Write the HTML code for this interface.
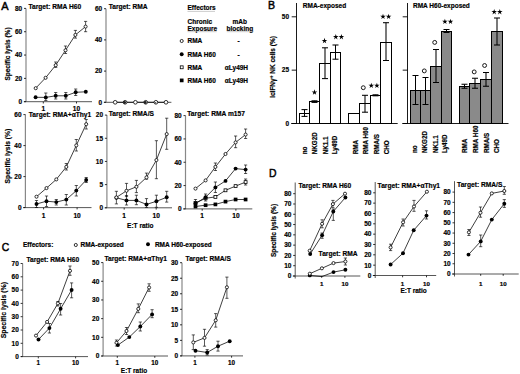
<!DOCTYPE html>
<html><head><meta charset="utf-8"><style>
html,body{margin:0;padding:0;background:#fff;}
body{width:520px;height:374px;overflow:hidden;}
svg{display:block;font-family:"Liberation Sans", sans-serif;}
text{stroke:#000;stroke-width:0.18px;}
</style></head><body>
<svg width="520" height="374" viewBox="0 0 520 374" fill="#000">
<text transform="translate(1.3,9.8) scale(0.93,1)" font-size="11.8" font-weight="normal" style="stroke-width:0.5px">A</text>
<line x1="26.00" y1="8.40" x2="26.00" y2="101.70" stroke="#888" stroke-width="1.2"/>
<line x1="23.80" y1="101.70" x2="92.00" y2="101.70" stroke="#444" stroke-width="0.9"/>
<line x1="24.00" y1="101.70" x2="26.00" y2="101.70" stroke="#000" stroke-width="0.8"/>
<text x="22.20" y="104.04" font-size="6.5" text-anchor="end" font-weight="bold" >0</text>
<line x1="24.00" y1="78.38" x2="26.00" y2="78.38" stroke="#000" stroke-width="0.8"/>
<text x="22.20" y="80.72" font-size="6.5" text-anchor="end" font-weight="bold" >20</text>
<line x1="24.00" y1="55.05" x2="26.00" y2="55.05" stroke="#000" stroke-width="0.8"/>
<text x="22.20" y="57.39" font-size="6.5" text-anchor="end" font-weight="bold" >40</text>
<line x1="24.00" y1="31.73" x2="26.00" y2="31.73" stroke="#000" stroke-width="0.8"/>
<text x="22.20" y="34.07" font-size="6.5" text-anchor="end" font-weight="bold" >60</text>
<line x1="24.00" y1="8.40" x2="26.00" y2="8.40" stroke="#000" stroke-width="0.8"/>
<text x="22.20" y="10.74" font-size="6.5" text-anchor="end" font-weight="bold" >80</text>
<line x1="43.30" y1="101.70" x2="43.30" y2="103.50" stroke="#000" stroke-width="0.8"/>
<text x="43.30" y="110.70" font-size="6.6" text-anchor="middle" font-weight="bold" >1</text>
<line x1="76.50" y1="101.70" x2="76.50" y2="103.50" stroke="#000" stroke-width="0.8"/>
<text x="76.50" y="110.70" font-size="6.6" text-anchor="middle" font-weight="bold" >10</text>
<text x="28.40" y="9.00" font-size="6.65" text-anchor="start" font-weight="bold" >Target: RMA H60</text>
<line x1="45.80" y1="93.00" x2="45.80" y2="100.50" stroke="#000" stroke-width="0.65"/>
<line x1="44.20" y1="93.00" x2="47.40" y2="93.00" stroke="#000" stroke-width="0.65"/>
<line x1="44.20" y1="100.50" x2="47.40" y2="100.50" stroke="#000" stroke-width="0.65"/>
<line x1="55.70" y1="92.50" x2="55.70" y2="99.00" stroke="#000" stroke-width="0.65"/>
<line x1="54.10" y1="92.50" x2="57.30" y2="92.50" stroke="#000" stroke-width="0.65"/>
<line x1="54.10" y1="99.00" x2="57.30" y2="99.00" stroke="#000" stroke-width="0.65"/>
<line x1="65.80" y1="92.50" x2="65.80" y2="99.00" stroke="#000" stroke-width="0.65"/>
<line x1="64.20" y1="92.50" x2="67.40" y2="92.50" stroke="#000" stroke-width="0.65"/>
<line x1="64.20" y1="99.00" x2="67.40" y2="99.00" stroke="#000" stroke-width="0.65"/>
<line x1="75.70" y1="89.00" x2="75.70" y2="95.50" stroke="#000" stroke-width="0.65"/>
<line x1="74.10" y1="89.00" x2="77.30" y2="89.00" stroke="#000" stroke-width="0.65"/>
<line x1="74.10" y1="95.50" x2="77.30" y2="95.50" stroke="#000" stroke-width="0.65"/>
<polyline points="35.60,97.30 45.80,97.40 55.70,95.80 65.80,95.80 75.70,92.30 85.80,91.80" fill="none" stroke="#000" stroke-width="0.75"/>
<circle cx="35.60" cy="97.30" r="1.95" fill="#000"/>
<circle cx="45.80" cy="97.40" r="1.95" fill="#000"/>
<circle cx="55.70" cy="95.80" r="1.95" fill="#000"/>
<circle cx="65.80" cy="95.80" r="1.95" fill="#000"/>
<circle cx="75.70" cy="92.30" r="1.95" fill="#000"/>
<circle cx="85.80" cy="91.80" r="1.95" fill="#000"/>
<line x1="55.70" y1="62.00" x2="55.70" y2="67.40" stroke="#000" stroke-width="0.65"/>
<line x1="54.10" y1="62.00" x2="57.30" y2="62.00" stroke="#000" stroke-width="0.65"/>
<line x1="54.10" y1="67.40" x2="57.30" y2="67.40" stroke="#000" stroke-width="0.65"/>
<line x1="65.50" y1="46.00" x2="65.50" y2="53.50" stroke="#000" stroke-width="0.65"/>
<line x1="63.90" y1="46.00" x2="67.10" y2="46.00" stroke="#000" stroke-width="0.65"/>
<line x1="63.90" y1="53.50" x2="67.10" y2="53.50" stroke="#000" stroke-width="0.65"/>
<line x1="75.40" y1="30.40" x2="75.40" y2="38.10" stroke="#000" stroke-width="0.65"/>
<line x1="73.80" y1="30.40" x2="77.00" y2="30.40" stroke="#000" stroke-width="0.65"/>
<line x1="73.80" y1="38.10" x2="77.00" y2="38.10" stroke="#000" stroke-width="0.65"/>
<line x1="85.60" y1="21.40" x2="85.60" y2="31.70" stroke="#000" stroke-width="0.65"/>
<line x1="84.00" y1="21.40" x2="87.20" y2="21.40" stroke="#000" stroke-width="0.65"/>
<line x1="84.00" y1="31.70" x2="87.20" y2="31.70" stroke="#000" stroke-width="0.65"/>
<polyline points="35.70,88.20 45.60,77.80 55.70,65.20 65.50,50.30 75.40,34.90 85.60,26.60" fill="none" stroke="#000" stroke-width="0.75"/>
<circle cx="35.70" cy="88.20" r="1.55" fill="#fff" stroke="#000" stroke-width="0.8"/>
<circle cx="45.60" cy="77.80" r="1.55" fill="#fff" stroke="#000" stroke-width="0.8"/>
<circle cx="55.70" cy="65.20" r="1.55" fill="#fff" stroke="#000" stroke-width="0.8"/>
<circle cx="65.50" cy="50.30" r="1.55" fill="#fff" stroke="#000" stroke-width="0.8"/>
<circle cx="75.40" cy="34.90" r="1.55" fill="#fff" stroke="#000" stroke-width="0.8"/>
<circle cx="85.60" cy="26.60" r="1.55" fill="#fff" stroke="#000" stroke-width="0.8"/>
<text transform="translate(9.80,54.00) rotate(-90)" font-size="6.5" text-anchor="middle" font-weight="bold">Specific lysis (%)</text>
<line x1="106.00" y1="8.70" x2="106.00" y2="102.30" stroke="#888" stroke-width="1.2"/>
<line x1="103.80" y1="102.30" x2="171.40" y2="102.30" stroke="#444" stroke-width="0.9"/>
<line x1="104.00" y1="102.30" x2="106.00" y2="102.30" stroke="#000" stroke-width="0.8"/>
<text x="102.20" y="104.64" font-size="6.5" text-anchor="end" font-weight="bold" >0</text>
<line x1="104.00" y1="71.10" x2="106.00" y2="71.10" stroke="#000" stroke-width="0.8"/>
<text x="102.20" y="73.44" font-size="6.5" text-anchor="end" font-weight="bold" >20</text>
<line x1="104.00" y1="39.90" x2="106.00" y2="39.90" stroke="#000" stroke-width="0.8"/>
<text x="102.20" y="42.24" font-size="6.5" text-anchor="end" font-weight="bold" >40</text>
<line x1="104.00" y1="8.70" x2="106.00" y2="8.70" stroke="#000" stroke-width="0.8"/>
<text x="102.20" y="11.04" font-size="6.5" text-anchor="end" font-weight="bold" >60</text>
<text x="108.70" y="8.70" font-size="6.65" text-anchor="start" font-weight="bold" >Target: RMA</text>
<polyline points="115.20,102.30 125.10,102.30 135.40,102.30 145.70,102.30 155.90,102.30 166.00,102.30" fill="none" stroke="#000" stroke-width="0.75"/>
<circle cx="115.20" cy="102.30" r="1.85" fill="#fff" stroke="#000" stroke-width="0.8"/>
<circle cx="125.10" cy="102.30" r="1.85" fill="#fff" stroke="#000" stroke-width="0.8"/>
<circle cx="124.60" cy="102.50" r="1.45" fill="#222"/>
<circle cx="135.40" cy="102.30" r="1.85" fill="#fff" stroke="#000" stroke-width="0.8"/>
<circle cx="145.70" cy="102.30" r="1.85" fill="#fff" stroke="#000" stroke-width="0.8"/>
<circle cx="145.20" cy="102.50" r="1.45" fill="#222"/>
<circle cx="155.90" cy="102.30" r="1.85" fill="#fff" stroke="#000" stroke-width="0.8"/>
<circle cx="155.50" cy="102.80" r="0.9" fill="#555"/>
<circle cx="166.00" cy="102.30" r="1.85" fill="#fff" stroke="#000" stroke-width="0.8"/>
<text x="187.50" y="10.10" font-size="6.5" text-anchor="start" font-weight="bold" >Effectors</text>
<line x1="187.50" y1="11.40" x2="215.00" y2="11.40" stroke="#aaa" stroke-width="0.6"/>
<text x="187.50" y="23.80" font-size="6.5" text-anchor="start" font-weight="bold" >Chronic</text>
<text x="187.50" y="30.60" font-size="6.5" text-anchor="start" font-weight="bold" >Exposure</text>
<line x1="187.50" y1="31.70" x2="216.70" y2="31.70" stroke="#aaa" stroke-width="0.6"/>
<text x="239.80" y="23.80" font-size="6.5" text-anchor="middle" font-weight="bold" >mAb</text>
<text x="239.80" y="30.60" font-size="6.5" text-anchor="middle" font-weight="bold" >blocking</text>
<line x1="226.70" y1="31.70" x2="253.30" y2="31.70" stroke="#aaa" stroke-width="0.6"/>
<circle cx="181.70" cy="41.00" r="1.55" fill="#fff" stroke="#000" stroke-width="0.8"/>
<text x="187.50" y="43.35" font-size="6.5" text-anchor="start" font-weight="bold" >RMA</text>
<text x="238.60" y="43.35" font-size="6.5" text-anchor="middle" font-weight="bold" >-</text>
<circle cx="181.70" cy="54.30" r="1.95" fill="#000"/>
<text x="187.50" y="56.65" font-size="6.5" text-anchor="start" font-weight="bold" >RMA H60</text>
<text x="238.60" y="56.65" font-size="6.5" text-anchor="middle" font-weight="bold" >-</text>
<rect x="180.25" y="65.85" width="2.90" height="2.90" fill="#fff" stroke="#000" stroke-width="0.8"/>
<text x="187.50" y="69.65" font-size="6.5" text-anchor="start" font-weight="bold" >RMA</text>
<text x="224.80" y="69.65" font-size="6.5" text-anchor="start" font-weight="bold" >&#945;Ly49H</text>
<rect x="179.85" y="78.55" width="3.70" height="3.70" fill="#000"/>
<text x="187.50" y="82.75" font-size="6.5" text-anchor="start" font-weight="bold" >RMA H60</text>
<text x="224.80" y="82.75" font-size="6.5" text-anchor="start" font-weight="bold" >&#945;Ly49H</text>
<line x1="25.40" y1="114.60" x2="25.40" y2="207.60" stroke="#888" stroke-width="1.2"/>
<line x1="23.20" y1="207.60" x2="91.50" y2="207.60" stroke="#444" stroke-width="0.9"/>
<line x1="23.40" y1="207.60" x2="25.40" y2="207.60" stroke="#000" stroke-width="0.8"/>
<text x="21.60" y="209.94" font-size="6.5" text-anchor="end" font-weight="bold" >0</text>
<line x1="23.40" y1="176.60" x2="25.40" y2="176.60" stroke="#000" stroke-width="0.8"/>
<text x="21.60" y="178.94" font-size="6.5" text-anchor="end" font-weight="bold" >20</text>
<line x1="23.40" y1="145.60" x2="25.40" y2="145.60" stroke="#000" stroke-width="0.8"/>
<text x="21.60" y="147.94" font-size="6.5" text-anchor="end" font-weight="bold" >40</text>
<line x1="23.40" y1="114.60" x2="25.40" y2="114.60" stroke="#000" stroke-width="0.8"/>
<text x="21.60" y="116.94" font-size="6.5" text-anchor="end" font-weight="bold" >60</text>
<line x1="43.60" y1="207.60" x2="43.60" y2="209.40" stroke="#000" stroke-width="0.8"/>
<text x="43.60" y="217.80" font-size="6.6" text-anchor="middle" font-weight="bold" >1</text>
<line x1="77.10" y1="207.60" x2="77.10" y2="209.40" stroke="#000" stroke-width="0.8"/>
<text x="77.10" y="217.80" font-size="6.6" text-anchor="middle" font-weight="bold" >10</text>
<text x="28.80" y="117.00" font-size="6.65" text-anchor="start" font-weight="bold" >Target: RMA+&#945;Thy1</text>
<line x1="36.50" y1="200.50" x2="36.50" y2="207.50" stroke="#000" stroke-width="0.65"/>
<line x1="34.90" y1="200.50" x2="38.10" y2="200.50" stroke="#000" stroke-width="0.65"/>
<line x1="34.90" y1="207.50" x2="38.10" y2="207.50" stroke="#000" stroke-width="0.65"/>
<line x1="46.50" y1="196.00" x2="46.50" y2="206.50" stroke="#000" stroke-width="0.65"/>
<line x1="44.90" y1="196.00" x2="48.10" y2="196.00" stroke="#000" stroke-width="0.65"/>
<line x1="44.90" y1="206.50" x2="48.10" y2="206.50" stroke="#000" stroke-width="0.65"/>
<line x1="56.30" y1="199.50" x2="56.30" y2="205.00" stroke="#000" stroke-width="0.65"/>
<line x1="54.70" y1="199.50" x2="57.90" y2="199.50" stroke="#000" stroke-width="0.65"/>
<line x1="54.70" y1="205.00" x2="57.90" y2="205.00" stroke="#000" stroke-width="0.65"/>
<line x1="66.30" y1="194.50" x2="66.30" y2="205.00" stroke="#000" stroke-width="0.65"/>
<line x1="64.70" y1="194.50" x2="67.90" y2="194.50" stroke="#000" stroke-width="0.65"/>
<line x1="64.70" y1="205.00" x2="67.90" y2="205.00" stroke="#000" stroke-width="0.65"/>
<line x1="76.30" y1="185.50" x2="76.30" y2="196.00" stroke="#000" stroke-width="0.65"/>
<line x1="74.70" y1="185.50" x2="77.90" y2="185.50" stroke="#000" stroke-width="0.65"/>
<line x1="74.70" y1="196.00" x2="77.90" y2="196.00" stroke="#000" stroke-width="0.65"/>
<line x1="86.20" y1="177.50" x2="86.20" y2="182.50" stroke="#000" stroke-width="0.65"/>
<line x1="84.60" y1="177.50" x2="87.80" y2="177.50" stroke="#000" stroke-width="0.65"/>
<line x1="84.60" y1="182.50" x2="87.80" y2="182.50" stroke="#000" stroke-width="0.65"/>
<polyline points="36.50,204.00 46.50,201.20 56.30,202.10 66.30,199.60 76.30,190.60 86.20,180.00" fill="none" stroke="#000" stroke-width="0.75"/>
<circle cx="36.50" cy="204.00" r="1.95" fill="#000"/>
<circle cx="46.50" cy="201.20" r="1.95" fill="#000"/>
<circle cx="56.30" cy="202.10" r="1.95" fill="#000"/>
<circle cx="66.30" cy="199.60" r="1.95" fill="#000"/>
<circle cx="76.30" cy="190.60" r="1.95" fill="#000"/>
<circle cx="86.20" cy="180.00" r="1.95" fill="#000"/>
<line x1="66.30" y1="163.50" x2="66.30" y2="170.00" stroke="#000" stroke-width="0.65"/>
<line x1="64.70" y1="163.50" x2="67.90" y2="163.50" stroke="#000" stroke-width="0.65"/>
<line x1="64.70" y1="170.00" x2="67.90" y2="170.00" stroke="#000" stroke-width="0.65"/>
<line x1="76.30" y1="139.50" x2="76.30" y2="151.00" stroke="#000" stroke-width="0.65"/>
<line x1="74.70" y1="139.50" x2="77.90" y2="139.50" stroke="#000" stroke-width="0.65"/>
<line x1="74.70" y1="151.00" x2="77.90" y2="151.00" stroke="#000" stroke-width="0.65"/>
<line x1="86.20" y1="119.50" x2="86.20" y2="129.00" stroke="#000" stroke-width="0.65"/>
<line x1="84.60" y1="119.50" x2="87.80" y2="119.50" stroke="#000" stroke-width="0.65"/>
<line x1="84.60" y1="129.00" x2="87.80" y2="129.00" stroke="#000" stroke-width="0.65"/>
<polyline points="36.50,196.70 46.50,188.10 56.30,179.40 66.30,166.90 76.30,145.40 86.20,124.20" fill="none" stroke="#000" stroke-width="0.75"/>
<circle cx="36.50" cy="196.70" r="1.55" fill="#fff" stroke="#000" stroke-width="0.8"/>
<circle cx="46.50" cy="188.10" r="1.55" fill="#fff" stroke="#000" stroke-width="0.8"/>
<circle cx="56.30" cy="179.40" r="1.55" fill="#fff" stroke="#000" stroke-width="0.8"/>
<circle cx="66.30" cy="166.90" r="1.55" fill="#fff" stroke="#000" stroke-width="0.8"/>
<circle cx="76.30" cy="145.40" r="1.55" fill="#fff" stroke="#000" stroke-width="0.8"/>
<circle cx="86.20" cy="124.20" r="1.55" fill="#fff" stroke="#000" stroke-width="0.8"/>
<text transform="translate(9.90,156.10) rotate(-90)" font-size="6.7" text-anchor="middle" font-weight="bold">Specific lysis (%)</text>
<line x1="106.90" y1="115.10" x2="106.90" y2="207.80" stroke="#888" stroke-width="1.2"/>
<line x1="104.70" y1="207.80" x2="172.00" y2="207.80" stroke="#444" stroke-width="0.9"/>
<line x1="104.90" y1="207.80" x2="106.90" y2="207.80" stroke="#000" stroke-width="0.8"/>
<text x="103.10" y="210.14" font-size="6.5" text-anchor="end" font-weight="bold" >0</text>
<line x1="104.90" y1="184.62" x2="106.90" y2="184.62" stroke="#000" stroke-width="0.8"/>
<text x="103.10" y="186.97" font-size="6.5" text-anchor="end" font-weight="bold" >5</text>
<line x1="104.90" y1="161.45" x2="106.90" y2="161.45" stroke="#000" stroke-width="0.8"/>
<text x="103.10" y="163.79" font-size="6.5" text-anchor="end" font-weight="bold" >10</text>
<line x1="104.90" y1="138.28" x2="106.90" y2="138.28" stroke="#000" stroke-width="0.8"/>
<text x="103.10" y="140.62" font-size="6.5" text-anchor="end" font-weight="bold" >15</text>
<line x1="104.90" y1="115.10" x2="106.90" y2="115.10" stroke="#000" stroke-width="0.8"/>
<text x="103.10" y="117.44" font-size="6.5" text-anchor="end" font-weight="bold" >20</text>
<line x1="124.20" y1="207.80" x2="124.20" y2="209.60" stroke="#000" stroke-width="0.8"/>
<text x="124.20" y="217.80" font-size="6.6" text-anchor="middle" font-weight="bold" >1</text>
<line x1="156.20" y1="207.80" x2="156.20" y2="209.60" stroke="#000" stroke-width="0.8"/>
<text x="156.20" y="217.80" font-size="6.6" text-anchor="middle" font-weight="bold" >10</text>
<text x="108.70" y="115.80" font-size="6.65" text-anchor="start" font-weight="bold" >Target: RMA/S</text>
<line x1="126.50" y1="195.50" x2="126.50" y2="205.00" stroke="#000" stroke-width="0.65"/>
<line x1="124.90" y1="195.50" x2="128.10" y2="195.50" stroke="#000" stroke-width="0.65"/>
<line x1="124.90" y1="205.00" x2="128.10" y2="205.00" stroke="#000" stroke-width="0.65"/>
<line x1="136.40" y1="195.20" x2="136.40" y2="204.70" stroke="#000" stroke-width="0.65"/>
<line x1="134.80" y1="195.20" x2="138.00" y2="195.20" stroke="#000" stroke-width="0.65"/>
<line x1="134.80" y1="204.70" x2="138.00" y2="204.70" stroke="#000" stroke-width="0.65"/>
<line x1="146.50" y1="198.60" x2="146.50" y2="207.40" stroke="#000" stroke-width="0.65"/>
<line x1="144.90" y1="198.60" x2="148.10" y2="198.60" stroke="#000" stroke-width="0.65"/>
<line x1="144.90" y1="207.40" x2="148.10" y2="207.40" stroke="#000" stroke-width="0.65"/>
<line x1="156.40" y1="195.20" x2="156.40" y2="207.30" stroke="#000" stroke-width="0.65"/>
<line x1="154.80" y1="195.20" x2="158.00" y2="195.20" stroke="#000" stroke-width="0.65"/>
<line x1="154.80" y1="207.30" x2="158.00" y2="207.30" stroke="#000" stroke-width="0.65"/>
<line x1="166.70" y1="191.30" x2="166.70" y2="202.10" stroke="#000" stroke-width="0.65"/>
<line x1="165.10" y1="191.30" x2="168.30" y2="191.30" stroke="#000" stroke-width="0.65"/>
<line x1="165.10" y1="202.10" x2="168.30" y2="202.10" stroke="#000" stroke-width="0.65"/>
<polyline points="116.40,197.80 126.50,200.40 136.40,200.40 146.50,204.40 156.40,201.30 166.70,197.30" fill="none" stroke="#000" stroke-width="0.75"/>
<circle cx="116.40" cy="197.80" r="1.95" fill="#000"/>
<circle cx="126.50" cy="200.40" r="1.95" fill="#000"/>
<circle cx="136.40" cy="200.40" r="1.95" fill="#000"/>
<circle cx="146.50" cy="204.40" r="1.95" fill="#000"/>
<circle cx="156.40" cy="201.30" r="1.95" fill="#000"/>
<circle cx="166.70" cy="197.30" r="1.95" fill="#000"/>
<line x1="116.40" y1="191.30" x2="116.40" y2="203.90" stroke="#000" stroke-width="0.65"/>
<line x1="114.80" y1="191.30" x2="118.00" y2="191.30" stroke="#000" stroke-width="0.65"/>
<line x1="114.80" y1="203.90" x2="118.00" y2="203.90" stroke="#000" stroke-width="0.65"/>
<line x1="126.50" y1="183.40" x2="126.50" y2="196.60" stroke="#000" stroke-width="0.65"/>
<line x1="124.90" y1="183.40" x2="128.10" y2="183.40" stroke="#000" stroke-width="0.65"/>
<line x1="124.90" y1="196.60" x2="128.10" y2="196.60" stroke="#000" stroke-width="0.65"/>
<line x1="136.40" y1="180.40" x2="136.40" y2="192.60" stroke="#000" stroke-width="0.65"/>
<line x1="134.80" y1="180.40" x2="138.00" y2="180.40" stroke="#000" stroke-width="0.65"/>
<line x1="134.80" y1="192.60" x2="138.00" y2="192.60" stroke="#000" stroke-width="0.65"/>
<line x1="146.50" y1="173.10" x2="146.50" y2="179.20" stroke="#000" stroke-width="0.65"/>
<line x1="144.90" y1="173.10" x2="148.10" y2="173.10" stroke="#000" stroke-width="0.65"/>
<line x1="144.90" y1="179.20" x2="148.10" y2="179.20" stroke="#000" stroke-width="0.65"/>
<line x1="156.40" y1="140.70" x2="156.40" y2="178.70" stroke="#000" stroke-width="0.65"/>
<line x1="154.80" y1="140.70" x2="158.00" y2="140.70" stroke="#000" stroke-width="0.65"/>
<line x1="154.80" y1="178.70" x2="158.00" y2="178.70" stroke="#000" stroke-width="0.65"/>
<line x1="166.70" y1="118.20" x2="166.70" y2="149.30" stroke="#000" stroke-width="0.65"/>
<line x1="165.10" y1="118.20" x2="168.30" y2="118.20" stroke="#000" stroke-width="0.65"/>
<line x1="165.10" y1="149.30" x2="168.30" y2="149.30" stroke="#000" stroke-width="0.65"/>
<polyline points="116.40,197.40 126.50,190.80 136.40,186.80 146.50,177.40 156.40,160.10 166.70,134.10" fill="none" stroke="#000" stroke-width="0.75"/>
<circle cx="116.40" cy="197.40" r="1.55" fill="#fff" stroke="#000" stroke-width="0.8"/>
<circle cx="126.50" cy="190.80" r="1.55" fill="#fff" stroke="#000" stroke-width="0.8"/>
<circle cx="136.40" cy="186.80" r="1.55" fill="#fff" stroke="#000" stroke-width="0.8"/>
<circle cx="146.50" cy="177.40" r="1.55" fill="#fff" stroke="#000" stroke-width="0.8"/>
<circle cx="156.40" cy="160.10" r="1.55" fill="#fff" stroke="#000" stroke-width="0.8"/>
<circle cx="166.70" cy="134.10" r="1.55" fill="#fff" stroke="#000" stroke-width="0.8"/>
<line x1="185.50" y1="115.60" x2="185.50" y2="208.90" stroke="#888" stroke-width="1.2"/>
<line x1="183.30" y1="208.90" x2="252.30" y2="208.90" stroke="#444" stroke-width="0.9"/>
<line x1="183.50" y1="208.90" x2="185.50" y2="208.90" stroke="#000" stroke-width="0.8"/>
<text x="181.70" y="211.24" font-size="6.5" text-anchor="end" font-weight="bold" >0</text>
<line x1="183.50" y1="185.57" x2="185.50" y2="185.57" stroke="#000" stroke-width="0.8"/>
<text x="181.70" y="187.91" font-size="6.5" text-anchor="end" font-weight="bold" >20</text>
<line x1="183.50" y1="162.25" x2="185.50" y2="162.25" stroke="#000" stroke-width="0.8"/>
<text x="181.70" y="164.59" font-size="6.5" text-anchor="end" font-weight="bold" >40</text>
<line x1="183.50" y1="138.93" x2="185.50" y2="138.93" stroke="#000" stroke-width="0.8"/>
<text x="181.70" y="141.27" font-size="6.5" text-anchor="end" font-weight="bold" >60</text>
<line x1="183.50" y1="115.60" x2="185.50" y2="115.60" stroke="#000" stroke-width="0.8"/>
<text x="181.70" y="117.94" font-size="6.5" text-anchor="end" font-weight="bold" >80</text>
<line x1="202.20" y1="208.90" x2="202.20" y2="210.70" stroke="#000" stroke-width="0.8"/>
<text x="202.20" y="217.80" font-size="6.6" text-anchor="middle" font-weight="bold" >1</text>
<line x1="235.90" y1="208.90" x2="235.90" y2="210.70" stroke="#000" stroke-width="0.8"/>
<text x="235.90" y="217.80" font-size="6.6" text-anchor="middle" font-weight="bold" >10</text>
<text x="187.30" y="116.20" font-size="6.65" text-anchor="start" font-weight="bold" >Target: RMA m157</text>
<polyline points="195.50,206.50 205.60,205.20 215.40,204.40 225.50,201.60 235.60,199.50 245.60,199.50" fill="none" stroke="#000" stroke-width="0.75"/>
<rect x="193.65" y="204.65" width="3.70" height="3.70" fill="#000"/>
<rect x="203.75" y="203.35" width="3.70" height="3.70" fill="#000"/>
<rect x="213.55" y="202.55" width="3.70" height="3.70" fill="#000"/>
<rect x="223.65" y="199.75" width="3.70" height="3.70" fill="#000"/>
<rect x="233.75" y="197.65" width="3.70" height="3.70" fill="#000"/>
<rect x="243.75" y="197.65" width="3.70" height="3.70" fill="#000"/>
<line x1="195.50" y1="199.50" x2="195.50" y2="206.50" stroke="#000" stroke-width="0.65"/>
<line x1="193.90" y1="199.50" x2="197.10" y2="199.50" stroke="#000" stroke-width="0.65"/>
<line x1="193.90" y1="206.50" x2="197.10" y2="206.50" stroke="#000" stroke-width="0.65"/>
<line x1="245.60" y1="179.00" x2="245.60" y2="185.00" stroke="#000" stroke-width="0.65"/>
<line x1="244.00" y1="179.00" x2="247.20" y2="179.00" stroke="#000" stroke-width="0.65"/>
<line x1="244.00" y1="185.00" x2="247.20" y2="185.00" stroke="#000" stroke-width="0.65"/>
<polyline points="195.50,203.00 205.60,198.30 215.40,196.90 225.50,190.30 235.60,186.10 245.60,182.10" fill="none" stroke="#000" stroke-width="0.75"/>
<rect x="194.05" y="201.55" width="2.90" height="2.90" fill="#fff" stroke="#000" stroke-width="0.8"/>
<rect x="204.15" y="196.85" width="2.90" height="2.90" fill="#fff" stroke="#000" stroke-width="0.8"/>
<rect x="213.95" y="195.45" width="2.90" height="2.90" fill="#fff" stroke="#000" stroke-width="0.8"/>
<rect x="224.05" y="188.85" width="2.90" height="2.90" fill="#fff" stroke="#000" stroke-width="0.8"/>
<rect x="234.15" y="184.65" width="2.90" height="2.90" fill="#fff" stroke="#000" stroke-width="0.8"/>
<rect x="244.15" y="180.65" width="2.90" height="2.90" fill="#fff" stroke="#000" stroke-width="0.8"/>
<line x1="205.60" y1="194.00" x2="205.60" y2="201.00" stroke="#000" stroke-width="0.65"/>
<line x1="204.00" y1="194.00" x2="207.20" y2="194.00" stroke="#000" stroke-width="0.65"/>
<line x1="204.00" y1="201.00" x2="207.20" y2="201.00" stroke="#000" stroke-width="0.65"/>
<line x1="215.40" y1="182.00" x2="215.40" y2="192.50" stroke="#000" stroke-width="0.65"/>
<line x1="213.80" y1="182.00" x2="217.00" y2="182.00" stroke="#000" stroke-width="0.65"/>
<line x1="213.80" y1="192.50" x2="217.00" y2="192.50" stroke="#000" stroke-width="0.65"/>
<line x1="245.60" y1="165.00" x2="245.60" y2="173.50" stroke="#000" stroke-width="0.65"/>
<line x1="244.00" y1="165.00" x2="247.20" y2="165.00" stroke="#000" stroke-width="0.65"/>
<line x1="244.00" y1="173.50" x2="247.20" y2="173.50" stroke="#000" stroke-width="0.65"/>
<polyline points="195.50,203.50 205.60,197.30 215.40,187.40 225.50,180.90 235.60,168.60 245.60,169.60" fill="none" stroke="#000" stroke-width="0.75"/>
<circle cx="195.50" cy="203.50" r="1.95" fill="#000"/>
<circle cx="205.60" cy="197.30" r="1.95" fill="#000"/>
<circle cx="215.40" cy="187.40" r="1.95" fill="#000"/>
<circle cx="225.50" cy="180.90" r="1.95" fill="#000"/>
<circle cx="235.60" cy="168.60" r="1.95" fill="#000"/>
<circle cx="245.60" cy="169.60" r="1.95" fill="#000"/>
<line x1="215.40" y1="163.00" x2="215.40" y2="170.50" stroke="#000" stroke-width="0.65"/>
<line x1="213.80" y1="163.00" x2="217.00" y2="163.00" stroke="#000" stroke-width="0.65"/>
<line x1="213.80" y1="170.50" x2="217.00" y2="170.50" stroke="#000" stroke-width="0.65"/>
<line x1="235.60" y1="136.00" x2="235.60" y2="147.70" stroke="#000" stroke-width="0.65"/>
<line x1="234.00" y1="136.00" x2="237.20" y2="136.00" stroke="#000" stroke-width="0.65"/>
<line x1="234.00" y1="147.70" x2="237.20" y2="147.70" stroke="#000" stroke-width="0.65"/>
<line x1="245.60" y1="129.00" x2="245.60" y2="138.50" stroke="#000" stroke-width="0.65"/>
<line x1="244.00" y1="129.00" x2="247.20" y2="129.00" stroke="#000" stroke-width="0.65"/>
<line x1="244.00" y1="138.50" x2="247.20" y2="138.50" stroke="#000" stroke-width="0.65"/>
<polyline points="195.50,188.60 205.60,180.40 215.40,166.90 225.50,154.00 235.60,142.40 245.60,134.60" fill="none" stroke="#000" stroke-width="0.75"/>
<circle cx="195.50" cy="188.60" r="1.55" fill="#fff" stroke="#000" stroke-width="0.8"/>
<circle cx="205.60" cy="180.40" r="1.55" fill="#fff" stroke="#000" stroke-width="0.8"/>
<circle cx="215.40" cy="166.90" r="1.55" fill="#fff" stroke="#000" stroke-width="0.8"/>
<circle cx="225.50" cy="154.00" r="1.55" fill="#fff" stroke="#000" stroke-width="0.8"/>
<circle cx="235.60" cy="142.40" r="1.55" fill="#fff" stroke="#000" stroke-width="0.8"/>
<circle cx="245.60" cy="134.60" r="1.55" fill="#fff" stroke="#000" stroke-width="0.8"/>
<text x="140.30" y="228.30" font-size="6.5" text-anchor="middle" font-weight="bold" >E:T ratio</text>
<text transform="translate(268.0,8.8) scale(0.9,1)" font-size="11.8" font-weight="normal" style="stroke-width:0.5px">B</text>
<text transform="translate(275.00,67.00) rotate(-90)" font-size="6.5" text-anchor="middle" font-weight="bold">icIFN&#947;<tspan dy="-1.7" font-size="4.8">+</tspan><tspan dy="1.7"> NK cells (%)</tspan></text>
<line x1="296.50" y1="3.00" x2="296.50" y2="123.50" stroke="#000" stroke-width="0.9"/>
<line x1="291.20" y1="123.50" x2="397.70" y2="123.50" stroke="#000" stroke-width="0.9"/>
<line x1="291.70" y1="123.50" x2="296.50" y2="123.50" stroke="#000" stroke-width="0.9"/>
<text x="289.00" y="125.84" font-size="6.5" text-anchor="end" font-weight="bold" >0</text>
<line x1="291.70" y1="70.15" x2="296.50" y2="70.15" stroke="#000" stroke-width="0.9"/>
<text x="289.00" y="72.49" font-size="6.5" text-anchor="end" font-weight="bold" >25</text>
<line x1="291.70" y1="16.80" x2="296.50" y2="16.80" stroke="#000" stroke-width="0.9"/>
<text x="289.00" y="19.14" font-size="6.5" text-anchor="end" font-weight="bold" >50</text>
<text x="302.80" y="7.80" font-size="6.5" text-anchor="start" font-weight="bold" >RMA-exposed</text>
<rect x="299.50" y="113.50" width="10.00" height="10.00" fill="#fff" stroke="#000" stroke-width="1.0"/>
<rect x="309.50" y="101.50" width="10.00" height="22.00" fill="#fff" stroke="#000" stroke-width="1.0"/>
<rect x="319.50" y="63.50" width="11.00" height="60.00" fill="#fff" stroke="#000" stroke-width="1.0"/>
<rect x="330.50" y="52.50" width="10.00" height="71.00" fill="#fff" stroke="#000" stroke-width="1.0"/>
<rect x="348.50" y="113.50" width="11.00" height="10.00" fill="#fff" stroke="#000" stroke-width="1.0"/>
<rect x="359.50" y="103.50" width="11.00" height="20.00" fill="#fff" stroke="#000" stroke-width="1.0"/>
<rect x="370.50" y="95.50" width="10.00" height="28.00" fill="#fff" stroke="#000" stroke-width="1.0"/>
<rect x="380.50" y="42.50" width="11.00" height="81.00" fill="#fff" stroke="#000" stroke-width="1.0"/>
<line x1="304.50" y1="109.60" x2="304.50" y2="116.40" stroke="#000" stroke-width="1.05"/>
<line x1="301.50" y1="109.60" x2="307.50" y2="109.60" stroke="#000" stroke-width="1.05"/>
<line x1="301.50" y1="116.40" x2="307.50" y2="116.40" stroke="#000" stroke-width="1.05"/>
<line x1="314.50" y1="100.80" x2="314.50" y2="102.40" stroke="#000" stroke-width="1.05"/>
<line x1="311.50" y1="100.80" x2="317.50" y2="100.80" stroke="#000" stroke-width="1.05"/>
<line x1="311.50" y1="102.40" x2="317.50" y2="102.40" stroke="#000" stroke-width="1.05"/>
<polygon points="314.50,89.35 315.15,91.41 317.31,91.39 315.55,92.64 316.23,94.69 314.50,93.40 312.77,94.69 313.45,92.64 311.69,91.39 313.85,91.41" fill="#000"/>
<line x1="325.00" y1="47.80" x2="325.00" y2="78.60" stroke="#000" stroke-width="1.05"/>
<line x1="322.00" y1="47.80" x2="328.00" y2="47.80" stroke="#000" stroke-width="1.05"/>
<line x1="322.00" y1="78.60" x2="328.00" y2="78.60" stroke="#000" stroke-width="1.05"/>
<polygon points="324.50,37.85 325.15,39.91 327.31,39.89 325.55,41.14 326.23,43.19 324.50,41.90 322.77,43.19 323.45,41.14 321.69,39.89 323.85,39.91" fill="#000"/>
<line x1="335.50" y1="45.00" x2="335.50" y2="59.20" stroke="#000" stroke-width="1.05"/>
<line x1="332.50" y1="45.00" x2="338.50" y2="45.00" stroke="#000" stroke-width="1.05"/>
<line x1="332.50" y1="59.20" x2="338.50" y2="59.20" stroke="#000" stroke-width="1.05"/>
<polygon points="335.80,34.05 336.45,36.11 338.61,36.09 336.85,37.34 337.53,39.39 335.80,38.10 334.07,39.39 334.75,37.34 332.99,36.09 335.15,36.11" fill="#000"/>
<polygon points="341.40,34.05 342.05,36.11 344.21,36.09 342.45,37.34 343.13,39.39 341.40,38.10 339.67,39.39 340.35,37.34 338.59,36.09 340.75,36.11" fill="#000"/>
<line x1="365.00" y1="95.30" x2="365.00" y2="112.20" stroke="#000" stroke-width="1.05"/>
<line x1="362.00" y1="95.30" x2="368.00" y2="95.30" stroke="#000" stroke-width="1.05"/>
<line x1="362.00" y1="112.20" x2="368.00" y2="112.20" stroke="#000" stroke-width="1.05"/>
<circle cx="363.30" cy="87.70" r="1.95" fill="none" stroke="#000" stroke-width="0.9"/>
<line x1="375.50" y1="94.80" x2="375.50" y2="95.80" stroke="#000" stroke-width="1.05"/>
<line x1="372.50" y1="94.80" x2="378.50" y2="94.80" stroke="#000" stroke-width="1.05"/>
<line x1="372.50" y1="95.80" x2="378.50" y2="95.80" stroke="#000" stroke-width="1.05"/>
<polygon points="371.30,82.75 371.95,84.81 374.11,84.79 372.35,86.04 373.03,88.09 371.30,86.80 369.57,88.09 370.25,86.04 368.49,84.79 370.65,84.81" fill="#000"/>
<polygon points="376.90,82.75 377.55,84.81 379.71,84.79 377.95,86.04 378.63,88.09 376.90,86.80 375.17,88.09 375.85,86.04 374.09,84.79 376.25,84.81" fill="#000"/>
<line x1="386.00" y1="22.70" x2="386.00" y2="60.50" stroke="#000" stroke-width="1.05"/>
<line x1="383.00" y1="22.70" x2="389.00" y2="22.70" stroke="#000" stroke-width="1.05"/>
<line x1="383.00" y1="60.50" x2="389.00" y2="60.50" stroke="#000" stroke-width="1.05"/>
<polygon points="383.00,13.75 383.65,15.81 385.81,15.79 384.05,17.04 384.73,19.09 383.00,17.80 381.27,19.09 381.95,17.04 380.19,15.79 382.35,15.81" fill="#000"/>
<polygon points="388.60,13.75 389.25,15.81 391.41,15.79 389.65,17.04 390.33,19.09 388.60,17.80 386.87,19.09 387.55,17.04 385.79,15.79 387.95,15.81" fill="#000"/>
<text transform="translate(307.20,154.30) rotate(-90)" font-size="6.3" text-anchor="start" font-weight="bold">no</text>
<text transform="translate(317.20,154.30) rotate(-90)" font-size="6.3" text-anchor="start" font-weight="bold">NKG2D</text>
<text transform="translate(327.50,154.30) rotate(-90)" font-size="6.3" text-anchor="start" font-weight="bold">NK1.1</text>
<text transform="translate(337.20,154.30) rotate(-90)" font-size="6.3" text-anchor="start" font-weight="bold">Ly49D</text>
<text transform="translate(357.70,154.30) rotate(-90)" font-size="6.3" text-anchor="start" font-weight="bold">RMA</text>
<text transform="translate(367.90,154.30) rotate(-90)" font-size="6.3" text-anchor="start" font-weight="bold">RMA H60</text>
<text transform="translate(378.50,154.30) rotate(-90)" font-size="6.3" text-anchor="start" font-weight="bold">RMA/S</text>
<text transform="translate(388.70,154.30) rotate(-90)" font-size="6.3" text-anchor="start" font-weight="bold">CHO</text>
<line x1="407.50" y1="3.00" x2="407.50" y2="123.50" stroke="#000" stroke-width="0.9"/>
<line x1="402.30" y1="123.50" x2="508.50" y2="123.50" stroke="#000" stroke-width="0.9"/>
<line x1="402.70" y1="123.50" x2="407.50" y2="123.50" stroke="#000" stroke-width="0.9"/>
<line x1="402.70" y1="70.15" x2="407.50" y2="70.15" stroke="#000" stroke-width="0.9"/>
<line x1="402.70" y1="16.80" x2="407.50" y2="16.80" stroke="#000" stroke-width="0.9"/>
<text x="413.00" y="7.80" font-size="6.5" text-anchor="start" font-weight="bold" >RMA H60-exposed</text>
<rect x="410.50" y="90.50" width="10.00" height="33.00" fill="#8a8a8a" stroke="#000" stroke-width="1.0"/>
<rect x="420.50" y="90.50" width="10.00" height="33.00" fill="#8a8a8a" stroke="#000" stroke-width="1.0"/>
<rect x="430.50" y="66.50" width="11.00" height="57.00" fill="#8a8a8a" stroke="#000" stroke-width="1.0"/>
<rect x="441.50" y="31.50" width="10.00" height="92.00" fill="#8a8a8a" stroke="#000" stroke-width="1.0"/>
<rect x="459.50" y="86.50" width="10.00" height="37.00" fill="#8a8a8a" stroke="#000" stroke-width="1.0"/>
<rect x="469.50" y="83.50" width="11.00" height="40.00" fill="#8a8a8a" stroke="#000" stroke-width="1.0"/>
<rect x="480.50" y="79.50" width="11.00" height="44.00" fill="#8a8a8a" stroke="#000" stroke-width="1.0"/>
<rect x="491.50" y="31.50" width="11.00" height="92.00" fill="#8a8a8a" stroke="#000" stroke-width="1.0"/>
<line x1="415.50" y1="75.50" x2="415.50" y2="104.50" stroke="#000" stroke-width="1.05"/>
<line x1="412.50" y1="75.50" x2="418.50" y2="75.50" stroke="#000" stroke-width="1.05"/>
<line x1="412.50" y1="104.50" x2="418.50" y2="104.50" stroke="#000" stroke-width="1.05"/>
<line x1="425.50" y1="77.50" x2="425.50" y2="104.50" stroke="#000" stroke-width="1.05"/>
<line x1="422.50" y1="77.50" x2="428.50" y2="77.50" stroke="#000" stroke-width="1.05"/>
<line x1="422.50" y1="104.50" x2="428.50" y2="104.50" stroke="#000" stroke-width="1.05"/>
<circle cx="424.30" cy="70.90" r="1.95" fill="none" stroke="#000" stroke-width="0.9"/>
<line x1="436.00" y1="49.50" x2="436.00" y2="82.50" stroke="#000" stroke-width="1.05"/>
<line x1="433.00" y1="49.50" x2="439.00" y2="49.50" stroke="#000" stroke-width="1.05"/>
<line x1="433.00" y1="82.50" x2="439.00" y2="82.50" stroke="#000" stroke-width="1.05"/>
<circle cx="434.70" cy="42.40" r="1.95" fill="none" stroke="#000" stroke-width="0.9"/>
<line x1="446.50" y1="29.50" x2="446.50" y2="32.50" stroke="#000" stroke-width="1.05"/>
<line x1="443.50" y1="29.50" x2="449.50" y2="29.50" stroke="#000" stroke-width="1.05"/>
<line x1="443.50" y1="32.50" x2="449.50" y2="32.50" stroke="#000" stroke-width="1.05"/>
<polygon points="444.90,18.75 445.55,20.81 447.71,20.79 445.95,22.04 446.63,24.09 444.90,22.80 443.17,24.09 443.85,22.04 442.09,20.79 444.25,20.81" fill="#000"/>
<polygon points="450.50,18.75 451.15,20.81 453.31,20.79 451.55,22.04 452.23,24.09 450.50,22.80 448.77,24.09 449.45,22.04 447.69,20.79 449.85,20.81" fill="#000"/>
<line x1="464.50" y1="84.25" x2="464.50" y2="88.25" stroke="#000" stroke-width="1.05"/>
<line x1="461.50" y1="84.25" x2="467.50" y2="84.25" stroke="#000" stroke-width="1.05"/>
<line x1="461.50" y1="88.25" x2="467.50" y2="88.25" stroke="#000" stroke-width="1.05"/>
<line x1="475.00" y1="78.25" x2="475.00" y2="88.25" stroke="#000" stroke-width="1.05"/>
<line x1="472.00" y1="78.25" x2="478.00" y2="78.25" stroke="#000" stroke-width="1.05"/>
<line x1="472.00" y1="88.25" x2="478.00" y2="88.25" stroke="#000" stroke-width="1.05"/>
<circle cx="474.20" cy="71.90" r="1.95" fill="none" stroke="#000" stroke-width="0.9"/>
<line x1="486.00" y1="72.50" x2="486.00" y2="86.25" stroke="#000" stroke-width="1.05"/>
<line x1="483.00" y1="72.50" x2="489.00" y2="72.50" stroke="#000" stroke-width="1.05"/>
<line x1="483.00" y1="86.25" x2="489.00" y2="86.25" stroke="#000" stroke-width="1.05"/>
<circle cx="484.60" cy="65.50" r="1.95" fill="none" stroke="#000" stroke-width="0.9"/>
<line x1="497.00" y1="18.00" x2="497.00" y2="45.00" stroke="#000" stroke-width="1.05"/>
<line x1="494.00" y1="18.00" x2="500.00" y2="18.00" stroke="#000" stroke-width="1.05"/>
<line x1="494.00" y1="45.00" x2="500.00" y2="45.00" stroke="#000" stroke-width="1.05"/>
<polygon points="494.20,9.05 494.85,11.11 497.01,11.09 495.25,12.34 495.93,14.39 494.20,13.10 492.47,14.39 493.15,12.34 491.39,11.09 493.55,11.11" fill="#000"/>
<polygon points="499.80,9.05 500.45,11.11 502.61,11.09 500.85,12.34 501.53,14.39 499.80,13.10 498.07,14.39 498.75,12.34 496.99,11.09 499.15,11.11" fill="#000"/>
<text transform="translate(417.20,153.00) rotate(-90)" font-size="6.3" text-anchor="start" font-weight="bold">no</text>
<text transform="translate(426.80,153.00) rotate(-90)" font-size="6.3" text-anchor="start" font-weight="bold">NKG2D</text>
<text transform="translate(437.50,153.00) rotate(-90)" font-size="6.3" text-anchor="start" font-weight="bold">NK1.1</text>
<text transform="translate(447.20,153.00) rotate(-90)" font-size="6.3" text-anchor="start" font-weight="bold">Ly49D</text>
<text transform="translate(467.40,153.00) rotate(-90)" font-size="6.3" text-anchor="start" font-weight="bold">RMA</text>
<text transform="translate(477.90,153.00) rotate(-90)" font-size="6.3" text-anchor="start" font-weight="bold">RMA H60</text>
<text transform="translate(488.70,153.00) rotate(-90)" font-size="6.3" text-anchor="start" font-weight="bold">RMA/S</text>
<text transform="translate(498.90,153.00) rotate(-90)" font-size="6.3" text-anchor="start" font-weight="bold">CHO</text>
<text transform="translate(1.7,251.2) scale(0.88,1)" font-size="11.8" font-weight="normal" style="stroke-width:0.5px">C</text>
<text x="23.00" y="247.40" font-size="6.5" text-anchor="start" font-weight="bold" >Effectors:</text>
<circle cx="75.80" cy="245.00" r="1.55" fill="#fff" stroke="#000" stroke-width="0.8"/>
<text x="80.50" y="247.40" font-size="6.5" text-anchor="start" font-weight="bold" >RMA-exposed</text>
<circle cx="148.00" cy="244.30" r="1.95" fill="#000"/>
<text x="154.90" y="247.40" font-size="6.5" text-anchor="start" font-weight="bold" >RMA H60-exposed</text>
<line x1="22.60" y1="263.50" x2="22.60" y2="356.60" stroke="#888" stroke-width="1.2"/>
<line x1="20.80" y1="356.60" x2="88.00" y2="356.60" stroke="#444" stroke-width="0.9"/>
<line x1="20.60" y1="356.60" x2="22.60" y2="356.60" stroke="#000" stroke-width="0.8"/>
<text x="18.80" y="358.94" font-size="6.5" text-anchor="end" font-weight="bold" >0</text>
<line x1="20.60" y1="343.30" x2="22.60" y2="343.30" stroke="#000" stroke-width="0.8"/>
<text x="18.80" y="345.64" font-size="6.5" text-anchor="end" font-weight="bold" >10</text>
<line x1="20.60" y1="330.00" x2="22.60" y2="330.00" stroke="#000" stroke-width="0.8"/>
<text x="18.80" y="332.34" font-size="6.5" text-anchor="end" font-weight="bold" >20</text>
<line x1="20.60" y1="316.70" x2="22.60" y2="316.70" stroke="#000" stroke-width="0.8"/>
<text x="18.80" y="319.04" font-size="6.5" text-anchor="end" font-weight="bold" >30</text>
<line x1="20.60" y1="303.40" x2="22.60" y2="303.40" stroke="#000" stroke-width="0.8"/>
<text x="18.80" y="305.74" font-size="6.5" text-anchor="end" font-weight="bold" >40</text>
<line x1="20.60" y1="290.10" x2="22.60" y2="290.10" stroke="#000" stroke-width="0.8"/>
<text x="18.80" y="292.44" font-size="6.5" text-anchor="end" font-weight="bold" >50</text>
<line x1="20.60" y1="276.80" x2="22.60" y2="276.80" stroke="#000" stroke-width="0.8"/>
<text x="18.80" y="279.14" font-size="6.5" text-anchor="end" font-weight="bold" >60</text>
<line x1="20.60" y1="263.50" x2="22.60" y2="263.50" stroke="#000" stroke-width="0.8"/>
<text x="18.80" y="265.84" font-size="6.5" text-anchor="end" font-weight="bold" >70</text>
<line x1="38.30" y1="356.60" x2="38.30" y2="358.40" stroke="#000" stroke-width="0.8"/>
<text x="38.30" y="365.20" font-size="6.3" text-anchor="middle" font-weight="bold" >1</text>
<line x1="75.60" y1="356.60" x2="75.60" y2="358.40" stroke="#000" stroke-width="0.8"/>
<text x="75.60" y="365.20" font-size="6.3" text-anchor="middle" font-weight="bold" >10</text>
<text x="26.40" y="261.80" font-size="6.65" text-anchor="start" font-weight="bold" >Target: RMA H60</text>
<line x1="57.90" y1="301.50" x2="57.90" y2="306.00" stroke="#000" stroke-width="0.65"/>
<line x1="56.30" y1="301.50" x2="59.50" y2="301.50" stroke="#000" stroke-width="0.65"/>
<line x1="56.30" y1="306.00" x2="59.50" y2="306.00" stroke="#000" stroke-width="0.65"/>
<line x1="70.00" y1="266.00" x2="70.00" y2="275.30" stroke="#000" stroke-width="0.65"/>
<line x1="68.40" y1="266.00" x2="71.60" y2="266.00" stroke="#000" stroke-width="0.65"/>
<line x1="68.40" y1="275.30" x2="71.60" y2="275.30" stroke="#000" stroke-width="0.65"/>
<polyline points="36.00,335.60 47.10,321.90 57.90,303.40 70.00,270.80" fill="none" stroke="#000" stroke-width="0.75"/>
<circle cx="36.00" cy="335.60" r="1.55" fill="#fff" stroke="#000" stroke-width="0.8"/>
<circle cx="47.10" cy="321.90" r="1.55" fill="#fff" stroke="#000" stroke-width="0.8"/>
<circle cx="57.90" cy="303.40" r="1.55" fill="#fff" stroke="#000" stroke-width="0.8"/>
<circle cx="70.00" cy="270.80" r="1.55" fill="#fff" stroke="#000" stroke-width="0.8"/>
<line x1="49.40" y1="323.50" x2="49.40" y2="333.00" stroke="#000" stroke-width="0.65"/>
<line x1="47.80" y1="323.50" x2="51.00" y2="323.50" stroke="#000" stroke-width="0.65"/>
<line x1="47.80" y1="333.00" x2="51.00" y2="333.00" stroke="#000" stroke-width="0.65"/>
<line x1="60.60" y1="303.50" x2="60.60" y2="315.00" stroke="#000" stroke-width="0.65"/>
<line x1="59.00" y1="303.50" x2="62.20" y2="303.50" stroke="#000" stroke-width="0.65"/>
<line x1="59.00" y1="315.00" x2="62.20" y2="315.00" stroke="#000" stroke-width="0.65"/>
<line x1="71.60" y1="282.90" x2="71.60" y2="297.80" stroke="#000" stroke-width="0.65"/>
<line x1="70.00" y1="282.90" x2="73.20" y2="282.90" stroke="#000" stroke-width="0.65"/>
<line x1="70.00" y1="297.80" x2="73.20" y2="297.80" stroke="#000" stroke-width="0.65"/>
<polyline points="38.50,339.50 49.40,328.10 60.60,308.80 71.60,290.00" fill="none" stroke="#000" stroke-width="0.75"/>
<circle cx="38.50" cy="339.50" r="1.95" fill="#000"/>
<circle cx="49.40" cy="328.10" r="1.95" fill="#000"/>
<circle cx="60.60" cy="308.80" r="1.95" fill="#000"/>
<circle cx="71.60" cy="290.00" r="1.95" fill="#000"/>
<text transform="translate(5.70,310.20) rotate(-90)" font-size="6.9" text-anchor="middle" font-weight="bold">Specific lysis (%)</text>
<line x1="103.10" y1="262.60" x2="103.10" y2="356.00" stroke="#888" stroke-width="1.2"/>
<line x1="101.30" y1="356.00" x2="168.00" y2="356.00" stroke="#444" stroke-width="0.9"/>
<line x1="101.10" y1="356.00" x2="103.10" y2="356.00" stroke="#000" stroke-width="0.8"/>
<text x="99.30" y="358.34" font-size="6.5" text-anchor="end" font-weight="bold" >0</text>
<line x1="101.10" y1="337.32" x2="103.10" y2="337.32" stroke="#000" stroke-width="0.8"/>
<text x="99.30" y="339.66" font-size="6.5" text-anchor="end" font-weight="bold" >10</text>
<line x1="101.10" y1="318.64" x2="103.10" y2="318.64" stroke="#000" stroke-width="0.8"/>
<text x="99.30" y="320.98" font-size="6.5" text-anchor="end" font-weight="bold" >20</text>
<line x1="101.10" y1="299.96" x2="103.10" y2="299.96" stroke="#000" stroke-width="0.8"/>
<text x="99.30" y="302.30" font-size="6.5" text-anchor="end" font-weight="bold" >30</text>
<line x1="101.10" y1="281.28" x2="103.10" y2="281.28" stroke="#000" stroke-width="0.8"/>
<text x="99.30" y="283.62" font-size="6.5" text-anchor="end" font-weight="bold" >40</text>
<line x1="101.10" y1="262.60" x2="103.10" y2="262.60" stroke="#000" stroke-width="0.8"/>
<text x="99.30" y="264.94" font-size="6.5" text-anchor="end" font-weight="bold" >50</text>
<line x1="117.30" y1="356.00" x2="117.30" y2="357.80" stroke="#000" stroke-width="0.8"/>
<text x="117.30" y="364.70" font-size="6.3" text-anchor="middle" font-weight="bold" >1</text>
<line x1="154.80" y1="356.00" x2="154.80" y2="357.80" stroke="#000" stroke-width="0.8"/>
<text x="154.80" y="364.70" font-size="6.3" text-anchor="middle" font-weight="bold" >10</text>
<text x="104.40" y="261.10" font-size="6.65" text-anchor="start" font-weight="bold" >Target: RMA+&#945;Thy1</text>
<line x1="116.50" y1="340.00" x2="116.50" y2="346.00" stroke="#000" stroke-width="0.65"/>
<line x1="114.90" y1="340.00" x2="118.10" y2="340.00" stroke="#000" stroke-width="0.65"/>
<line x1="114.90" y1="346.00" x2="118.10" y2="346.00" stroke="#000" stroke-width="0.65"/>
<line x1="126.50" y1="327.50" x2="126.50" y2="334.50" stroke="#000" stroke-width="0.65"/>
<line x1="124.90" y1="327.50" x2="128.10" y2="327.50" stroke="#000" stroke-width="0.65"/>
<line x1="124.90" y1="334.50" x2="128.10" y2="334.50" stroke="#000" stroke-width="0.65"/>
<line x1="138.30" y1="303.90" x2="138.30" y2="312.70" stroke="#000" stroke-width="0.65"/>
<line x1="136.70" y1="303.90" x2="139.90" y2="303.90" stroke="#000" stroke-width="0.65"/>
<line x1="136.70" y1="312.70" x2="139.90" y2="312.70" stroke="#000" stroke-width="0.65"/>
<line x1="149.10" y1="283.80" x2="149.10" y2="291.30" stroke="#000" stroke-width="0.65"/>
<line x1="147.50" y1="283.80" x2="150.70" y2="283.80" stroke="#000" stroke-width="0.65"/>
<line x1="147.50" y1="291.30" x2="150.70" y2="291.30" stroke="#000" stroke-width="0.65"/>
<polyline points="116.50,342.80 126.50,331.00 138.30,308.90 149.10,287.50" fill="none" stroke="#000" stroke-width="0.75"/>
<circle cx="116.50" cy="342.80" r="1.55" fill="#fff" stroke="#000" stroke-width="0.8"/>
<circle cx="126.50" cy="331.00" r="1.55" fill="#fff" stroke="#000" stroke-width="0.8"/>
<circle cx="138.30" cy="308.90" r="1.55" fill="#fff" stroke="#000" stroke-width="0.8"/>
<circle cx="149.10" cy="287.50" r="1.55" fill="#fff" stroke="#000" stroke-width="0.8"/>
<line x1="140.30" y1="322.00" x2="140.30" y2="331.00" stroke="#000" stroke-width="0.65"/>
<line x1="138.70" y1="322.00" x2="141.90" y2="322.00" stroke="#000" stroke-width="0.65"/>
<line x1="138.70" y1="331.00" x2="141.90" y2="331.00" stroke="#000" stroke-width="0.65"/>
<line x1="152.10" y1="309.70" x2="152.10" y2="317.70" stroke="#000" stroke-width="0.65"/>
<line x1="150.50" y1="309.70" x2="153.70" y2="309.70" stroke="#000" stroke-width="0.65"/>
<line x1="150.50" y1="317.70" x2="153.70" y2="317.70" stroke="#000" stroke-width="0.65"/>
<polyline points="117.90,345.10 129.30,337.10 140.30,326.50 152.10,314.40" fill="none" stroke="#000" stroke-width="0.75"/>
<circle cx="117.90" cy="345.10" r="1.95" fill="#000"/>
<circle cx="129.30" cy="337.10" r="1.95" fill="#000"/>
<circle cx="140.30" cy="326.50" r="1.95" fill="#000"/>
<circle cx="152.10" cy="314.40" r="1.95" fill="#000"/>
<text x="134.00" y="372.90" font-size="6.5" text-anchor="middle" font-weight="bold" >E:T ratio</text>
<line x1="182.00" y1="262.70" x2="182.00" y2="355.90" stroke="#888" stroke-width="1.2"/>
<line x1="180.20" y1="355.90" x2="243.00" y2="355.90" stroke="#444" stroke-width="0.9"/>
<line x1="180.00" y1="355.90" x2="182.00" y2="355.90" stroke="#000" stroke-width="0.8"/>
<text x="178.20" y="358.24" font-size="6.5" text-anchor="end" font-weight="bold" >0</text>
<line x1="180.00" y1="340.37" x2="182.00" y2="340.37" stroke="#000" stroke-width="0.8"/>
<text x="178.20" y="342.71" font-size="6.5" text-anchor="end" font-weight="bold" >5</text>
<line x1="180.00" y1="324.83" x2="182.00" y2="324.83" stroke="#000" stroke-width="0.8"/>
<text x="178.20" y="327.17" font-size="6.5" text-anchor="end" font-weight="bold" >10</text>
<line x1="180.00" y1="309.30" x2="182.00" y2="309.30" stroke="#000" stroke-width="0.8"/>
<text x="178.20" y="311.64" font-size="6.5" text-anchor="end" font-weight="bold" >15</text>
<line x1="180.00" y1="293.77" x2="182.00" y2="293.77" stroke="#000" stroke-width="0.8"/>
<text x="178.20" y="296.11" font-size="6.5" text-anchor="end" font-weight="bold" >20</text>
<line x1="180.00" y1="278.23" x2="182.00" y2="278.23" stroke="#000" stroke-width="0.8"/>
<text x="178.20" y="280.57" font-size="6.5" text-anchor="end" font-weight="bold" >25</text>
<line x1="180.00" y1="262.70" x2="182.00" y2="262.70" stroke="#000" stroke-width="0.8"/>
<text x="178.20" y="265.04" font-size="6.5" text-anchor="end" font-weight="bold" >30</text>
<line x1="194.90" y1="355.90" x2="194.90" y2="357.70" stroke="#000" stroke-width="0.8"/>
<text x="194.90" y="364.60" font-size="6.3" text-anchor="middle" font-weight="bold" >1</text>
<line x1="231.60" y1="355.90" x2="231.60" y2="357.70" stroke="#000" stroke-width="0.8"/>
<text x="231.60" y="364.60" font-size="6.3" text-anchor="middle" font-weight="bold" >10</text>
<text x="185.60" y="261.00" font-size="6.65" text-anchor="start" font-weight="bold" >Target: RMA/S</text>
<line x1="207.20" y1="349.60" x2="207.20" y2="355.00" stroke="#000" stroke-width="0.65"/>
<line x1="205.60" y1="349.60" x2="208.80" y2="349.60" stroke="#000" stroke-width="0.65"/>
<line x1="205.60" y1="355.00" x2="208.80" y2="355.00" stroke="#000" stroke-width="0.65"/>
<line x1="218.00" y1="341.20" x2="218.00" y2="351.10" stroke="#000" stroke-width="0.65"/>
<line x1="216.40" y1="341.20" x2="219.60" y2="341.20" stroke="#000" stroke-width="0.65"/>
<line x1="216.40" y1="351.10" x2="219.60" y2="351.10" stroke="#000" stroke-width="0.65"/>
<polyline points="195.50,350.70 207.20,352.50 218.00,346.20 229.70,341.20" fill="none" stroke="#000" stroke-width="0.75"/>
<circle cx="195.50" cy="350.70" r="1.95" fill="#000"/>
<circle cx="207.20" cy="352.50" r="1.95" fill="#000"/>
<circle cx="218.00" cy="346.20" r="1.95" fill="#000"/>
<circle cx="229.70" cy="341.20" r="1.95" fill="#000"/>
<line x1="193.30" y1="334.90" x2="193.30" y2="349.60" stroke="#000" stroke-width="0.65"/>
<line x1="191.70" y1="334.90" x2="194.90" y2="334.90" stroke="#000" stroke-width="0.65"/>
<line x1="191.70" y1="349.60" x2="194.90" y2="349.60" stroke="#000" stroke-width="0.65"/>
<line x1="204.50" y1="329.30" x2="204.50" y2="346.20" stroke="#000" stroke-width="0.65"/>
<line x1="202.90" y1="329.30" x2="206.10" y2="329.30" stroke="#000" stroke-width="0.65"/>
<line x1="202.90" y1="346.20" x2="206.10" y2="346.20" stroke="#000" stroke-width="0.65"/>
<line x1="215.70" y1="313.60" x2="215.70" y2="327.10" stroke="#000" stroke-width="0.65"/>
<line x1="214.10" y1="313.60" x2="217.30" y2="313.60" stroke="#000" stroke-width="0.65"/>
<line x1="214.10" y1="327.10" x2="217.30" y2="327.10" stroke="#000" stroke-width="0.65"/>
<line x1="226.90" y1="277.10" x2="226.90" y2="298.30" stroke="#000" stroke-width="0.65"/>
<line x1="225.30" y1="277.10" x2="228.50" y2="277.10" stroke="#000" stroke-width="0.65"/>
<line x1="225.30" y1="298.30" x2="228.50" y2="298.30" stroke="#000" stroke-width="0.65"/>
<polyline points="193.30,342.40 204.50,337.90 215.70,320.30 226.90,287.30" fill="none" stroke="#000" stroke-width="0.75"/>
<circle cx="193.30" cy="342.40" r="1.55" fill="#fff" stroke="#000" stroke-width="0.8"/>
<circle cx="204.50" cy="337.90" r="1.55" fill="#fff" stroke="#000" stroke-width="0.8"/>
<circle cx="215.70" cy="320.30" r="1.55" fill="#fff" stroke="#000" stroke-width="0.8"/>
<circle cx="226.90" cy="287.30" r="1.55" fill="#fff" stroke="#000" stroke-width="0.8"/>
<text transform="translate(268.9,176.6) scale(0.88,1)" font-size="11.8" font-weight="normal" style="stroke-width:0.5px">D</text>
<line x1="295.20" y1="182.50" x2="295.20" y2="278.50" stroke="#444" stroke-width="0.9"/>
<line x1="292.80" y1="276.00" x2="360.30" y2="276.00" stroke="#444" stroke-width="0.9"/>
<line x1="293.20" y1="276.00" x2="295.20" y2="276.00" stroke="#000" stroke-width="0.8"/>
<text x="291.40" y="278.34" font-size="6.5" text-anchor="end" font-weight="bold" >0</text>
<line x1="293.20" y1="265.71" x2="295.20" y2="265.71" stroke="#000" stroke-width="0.8"/>
<text x="291.40" y="268.05" font-size="6.5" text-anchor="end" font-weight="bold" >10</text>
<line x1="293.20" y1="255.43" x2="295.20" y2="255.43" stroke="#000" stroke-width="0.8"/>
<text x="291.40" y="257.76" font-size="6.5" text-anchor="end" font-weight="bold" >20</text>
<line x1="293.20" y1="245.14" x2="295.20" y2="245.14" stroke="#000" stroke-width="0.8"/>
<text x="291.40" y="247.48" font-size="6.5" text-anchor="end" font-weight="bold" >30</text>
<line x1="293.20" y1="234.85" x2="295.20" y2="234.85" stroke="#000" stroke-width="0.8"/>
<text x="291.40" y="237.19" font-size="6.5" text-anchor="end" font-weight="bold" >40</text>
<line x1="293.20" y1="224.56" x2="295.20" y2="224.56" stroke="#000" stroke-width="0.8"/>
<text x="291.40" y="226.90" font-size="6.5" text-anchor="end" font-weight="bold" >50</text>
<line x1="293.20" y1="214.28" x2="295.20" y2="214.28" stroke="#000" stroke-width="0.8"/>
<text x="291.40" y="216.62" font-size="6.5" text-anchor="end" font-weight="bold" >60</text>
<line x1="293.20" y1="203.99" x2="295.20" y2="203.99" stroke="#000" stroke-width="0.8"/>
<text x="291.40" y="206.33" font-size="6.5" text-anchor="end" font-weight="bold" >70</text>
<line x1="293.20" y1="193.70" x2="295.20" y2="193.70" stroke="#000" stroke-width="0.8"/>
<text x="291.40" y="196.04" font-size="6.5" text-anchor="end" font-weight="bold" >80</text>
<line x1="321.70" y1="276.00" x2="321.70" y2="277.80" stroke="#000" stroke-width="0.8"/>
<text x="321.70" y="286.30" font-size="6.2" text-anchor="middle" font-weight="bold" >1</text>
<line x1="344.90" y1="276.00" x2="344.90" y2="277.80" stroke="#000" stroke-width="0.8"/>
<text x="344.90" y="286.30" font-size="6.2" text-anchor="middle" font-weight="bold" >10</text>
<text x="298.40" y="187.80" font-size="6.65" text-anchor="start" font-weight="bold" >Target: RMA H60</text>
<line x1="322.10" y1="233.00" x2="322.10" y2="238.30" stroke="#000" stroke-width="0.65"/>
<line x1="320.50" y1="233.00" x2="323.70" y2="233.00" stroke="#000" stroke-width="0.65"/>
<line x1="320.50" y1="238.30" x2="323.70" y2="238.30" stroke="#000" stroke-width="0.65"/>
<line x1="333.30" y1="209.00" x2="333.30" y2="220.40" stroke="#000" stroke-width="0.65"/>
<line x1="331.70" y1="209.00" x2="334.90" y2="209.00" stroke="#000" stroke-width="0.65"/>
<line x1="331.70" y1="220.40" x2="334.90" y2="220.40" stroke="#000" stroke-width="0.65"/>
<polyline points="310.20,254.00 322.10,235.20 333.30,211.50 345.40,197.50" fill="none" stroke="#000" stroke-width="0.75"/>
<circle cx="310.20" cy="254.00" r="1.95" fill="#000"/>
<circle cx="322.10" cy="235.20" r="1.95" fill="#000"/>
<circle cx="333.30" cy="211.50" r="1.95" fill="#000"/>
<circle cx="345.40" cy="197.50" r="1.95" fill="#000"/>
<line x1="322.10" y1="219.80" x2="322.10" y2="227.80" stroke="#000" stroke-width="0.65"/>
<line x1="320.50" y1="219.80" x2="323.70" y2="219.80" stroke="#000" stroke-width="0.65"/>
<line x1="320.50" y1="227.80" x2="323.70" y2="227.80" stroke="#000" stroke-width="0.65"/>
<line x1="332.90" y1="200.40" x2="332.90" y2="207.70" stroke="#000" stroke-width="0.65"/>
<line x1="331.30" y1="200.40" x2="334.50" y2="200.40" stroke="#000" stroke-width="0.65"/>
<line x1="331.30" y1="207.70" x2="334.50" y2="207.70" stroke="#000" stroke-width="0.65"/>
<polyline points="309.70,250.70 322.10,223.80 332.90,204.10 345.00,193.70" fill="none" stroke="#000" stroke-width="0.75"/>
<circle cx="309.70" cy="250.70" r="1.55" fill="#fff" stroke="#000" stroke-width="0.8"/>
<circle cx="322.10" cy="223.80" r="1.55" fill="#fff" stroke="#000" stroke-width="0.8"/>
<circle cx="332.90" cy="204.10" r="1.55" fill="#fff" stroke="#000" stroke-width="0.8"/>
<circle cx="345.00" cy="193.70" r="1.55" fill="#fff" stroke="#000" stroke-width="0.8"/>
<text x="318.60" y="256.00" font-size="6.65" text-anchor="start" font-weight="bold" >Target: RMA</text>
<polyline points="309.80,275.40 321.90,276.60 333.50,272.10 345.40,269.80" fill="none" stroke="#000" stroke-width="0.75"/>
<circle cx="309.80" cy="275.40" r="1.95" fill="#000"/>
<circle cx="333.50" cy="272.10" r="1.95" fill="#000"/>
<circle cx="345.40" cy="269.80" r="1.95" fill="#000"/>
<line x1="345.40" y1="258.00" x2="345.40" y2="265.00" stroke="#000" stroke-width="0.65"/>
<line x1="343.80" y1="258.00" x2="347.00" y2="258.00" stroke="#000" stroke-width="0.65"/>
<line x1="343.80" y1="265.00" x2="347.00" y2="265.00" stroke="#000" stroke-width="0.65"/>
<polyline points="309.80,273.70 321.90,268.30 333.50,263.10 345.40,261.50" fill="none" stroke="#000" stroke-width="0.75"/>
<circle cx="309.80" cy="273.70" r="1.55" fill="#fff" stroke="#000" stroke-width="0.8"/>
<circle cx="321.90" cy="268.30" r="1.55" fill="#fff" stroke="#000" stroke-width="0.8"/>
<circle cx="333.50" cy="263.10" r="1.55" fill="#fff" stroke="#000" stroke-width="0.8"/>
<circle cx="345.40" cy="261.50" r="1.55" fill="#fff" stroke="#000" stroke-width="0.8"/>
<text transform="translate(275.60,230.50) rotate(-90)" font-size="6.5" text-anchor="middle" font-weight="bold">Specific lysis (%)</text>
<line x1="375.20" y1="182.00" x2="375.20" y2="278.00" stroke="#444" stroke-width="0.9"/>
<line x1="372.80" y1="275.50" x2="436.20" y2="275.50" stroke="#444" stroke-width="0.9"/>
<line x1="373.20" y1="275.50" x2="375.20" y2="275.50" stroke="#000" stroke-width="0.8"/>
<text x="371.40" y="277.84" font-size="6.5" text-anchor="end" font-weight="bold" >0</text>
<line x1="373.20" y1="265.16" x2="375.20" y2="265.16" stroke="#000" stroke-width="0.8"/>
<text x="371.40" y="267.50" font-size="6.5" text-anchor="end" font-weight="bold" >10</text>
<line x1="373.20" y1="254.82" x2="375.20" y2="254.82" stroke="#000" stroke-width="0.8"/>
<text x="371.40" y="257.16" font-size="6.5" text-anchor="end" font-weight="bold" >20</text>
<line x1="373.20" y1="244.49" x2="375.20" y2="244.49" stroke="#000" stroke-width="0.8"/>
<text x="371.40" y="246.83" font-size="6.5" text-anchor="end" font-weight="bold" >30</text>
<line x1="373.20" y1="234.15" x2="375.20" y2="234.15" stroke="#000" stroke-width="0.8"/>
<text x="371.40" y="236.49" font-size="6.5" text-anchor="end" font-weight="bold" >40</text>
<line x1="373.20" y1="223.81" x2="375.20" y2="223.81" stroke="#000" stroke-width="0.8"/>
<text x="371.40" y="226.15" font-size="6.5" text-anchor="end" font-weight="bold" >50</text>
<line x1="373.20" y1="213.47" x2="375.20" y2="213.47" stroke="#000" stroke-width="0.8"/>
<text x="371.40" y="215.81" font-size="6.5" text-anchor="end" font-weight="bold" >60</text>
<line x1="373.20" y1="203.14" x2="375.20" y2="203.14" stroke="#000" stroke-width="0.8"/>
<text x="371.40" y="205.48" font-size="6.5" text-anchor="end" font-weight="bold" >70</text>
<line x1="373.20" y1="192.80" x2="375.20" y2="192.80" stroke="#000" stroke-width="0.8"/>
<text x="371.40" y="195.14" font-size="6.5" text-anchor="end" font-weight="bold" >80</text>
<line x1="402.60" y1="275.50" x2="402.60" y2="277.30" stroke="#000" stroke-width="0.8"/>
<text x="402.60" y="286.30" font-size="6.2" text-anchor="middle" font-weight="bold" >1</text>
<line x1="426.50" y1="275.50" x2="426.50" y2="277.30" stroke="#000" stroke-width="0.8"/>
<text x="426.50" y="286.30" font-size="6.2" text-anchor="middle" font-weight="bold" >10</text>
<text x="377.60" y="187.70" font-size="6.65" text-anchor="start" font-weight="bold" >Target: RMA+&#945;Thy1</text>
<line x1="426.50" y1="210.80" x2="426.50" y2="219.00" stroke="#000" stroke-width="0.65"/>
<line x1="424.90" y1="210.80" x2="428.10" y2="210.80" stroke="#000" stroke-width="0.65"/>
<line x1="424.90" y1="219.00" x2="428.10" y2="219.00" stroke="#000" stroke-width="0.65"/>
<polyline points="390.60,264.50 403.00,253.20 413.70,230.30 426.50,215.60" fill="none" stroke="#000" stroke-width="0.75"/>
<circle cx="390.60" cy="264.50" r="1.95" fill="#000"/>
<circle cx="403.00" cy="253.20" r="1.95" fill="#000"/>
<circle cx="413.70" cy="230.30" r="1.95" fill="#000"/>
<circle cx="426.50" cy="215.60" r="1.95" fill="#000"/>
<line x1="390.60" y1="244.20" x2="390.60" y2="250.60" stroke="#000" stroke-width="0.65"/>
<line x1="389.00" y1="244.20" x2="392.20" y2="244.20" stroke="#000" stroke-width="0.65"/>
<line x1="389.00" y1="250.60" x2="392.20" y2="250.60" stroke="#000" stroke-width="0.65"/>
<line x1="403.10" y1="219.00" x2="403.10" y2="226.00" stroke="#000" stroke-width="0.65"/>
<line x1="401.50" y1="219.00" x2="404.70" y2="219.00" stroke="#000" stroke-width="0.65"/>
<line x1="401.50" y1="226.00" x2="404.70" y2="226.00" stroke="#000" stroke-width="0.65"/>
<line x1="414.00" y1="200.40" x2="414.00" y2="211.30" stroke="#000" stroke-width="0.65"/>
<line x1="412.40" y1="200.40" x2="415.60" y2="200.40" stroke="#000" stroke-width="0.65"/>
<line x1="412.40" y1="211.30" x2="415.60" y2="211.30" stroke="#000" stroke-width="0.65"/>
<polyline points="390.60,247.40 403.10,222.30 414.00,206.50 426.90,191.70" fill="none" stroke="#000" stroke-width="0.75"/>
<circle cx="390.60" cy="247.40" r="1.55" fill="#fff" stroke="#000" stroke-width="0.8"/>
<circle cx="403.10" cy="222.30" r="1.55" fill="#fff" stroke="#000" stroke-width="0.8"/>
<circle cx="414.00" cy="206.50" r="1.55" fill="#fff" stroke="#000" stroke-width="0.8"/>
<circle cx="426.90" cy="191.70" r="1.55" fill="#fff" stroke="#000" stroke-width="0.8"/>
<text x="413.60" y="292.50" font-size="6.5" text-anchor="middle" font-weight="bold" >E:T ratio</text>
<line x1="454.50" y1="181.20" x2="454.50" y2="276.50" stroke="#444" stroke-width="0.9"/>
<line x1="452.10" y1="274.00" x2="518.70" y2="274.00" stroke="#444" stroke-width="0.9"/>
<line x1="452.50" y1="274.00" x2="454.50" y2="274.00" stroke="#000" stroke-width="0.8"/>
<text x="450.70" y="276.34" font-size="6.5" text-anchor="end" font-weight="bold" >0</text>
<line x1="452.50" y1="263.76" x2="454.50" y2="263.76" stroke="#000" stroke-width="0.8"/>
<text x="450.70" y="266.10" font-size="6.5" text-anchor="end" font-weight="bold" >10</text>
<line x1="452.50" y1="253.53" x2="454.50" y2="253.53" stroke="#000" stroke-width="0.8"/>
<text x="450.70" y="255.87" font-size="6.5" text-anchor="end" font-weight="bold" >20</text>
<line x1="452.50" y1="243.29" x2="454.50" y2="243.29" stroke="#000" stroke-width="0.8"/>
<text x="450.70" y="245.63" font-size="6.5" text-anchor="end" font-weight="bold" >30</text>
<line x1="452.50" y1="233.05" x2="454.50" y2="233.05" stroke="#000" stroke-width="0.8"/>
<text x="450.70" y="235.39" font-size="6.5" text-anchor="end" font-weight="bold" >40</text>
<line x1="452.50" y1="222.81" x2="454.50" y2="222.81" stroke="#000" stroke-width="0.8"/>
<text x="450.70" y="225.15" font-size="6.5" text-anchor="end" font-weight="bold" >50</text>
<line x1="452.50" y1="212.57" x2="454.50" y2="212.57" stroke="#000" stroke-width="0.8"/>
<text x="450.70" y="214.91" font-size="6.5" text-anchor="end" font-weight="bold" >60</text>
<line x1="452.50" y1="202.34" x2="454.50" y2="202.34" stroke="#000" stroke-width="0.8"/>
<text x="450.70" y="204.68" font-size="6.5" text-anchor="end" font-weight="bold" >70</text>
<line x1="452.50" y1="192.10" x2="454.50" y2="192.10" stroke="#000" stroke-width="0.8"/>
<text x="450.70" y="194.44" font-size="6.5" text-anchor="end" font-weight="bold" >80</text>
<line x1="480.70" y1="274.00" x2="480.70" y2="275.80" stroke="#000" stroke-width="0.8"/>
<text x="480.70" y="286.30" font-size="6.2" text-anchor="middle" font-weight="bold" >1</text>
<line x1="503.20" y1="274.00" x2="503.20" y2="275.80" stroke="#000" stroke-width="0.8"/>
<text x="503.20" y="286.30" font-size="6.2" text-anchor="middle" font-weight="bold" >10</text>
<text x="457.10" y="186.60" font-size="6.65" text-anchor="start" font-weight="bold" >Target: RMA/S</text>
<line x1="480.70" y1="235.00" x2="480.70" y2="246.70" stroke="#000" stroke-width="0.65"/>
<line x1="479.10" y1="235.00" x2="482.30" y2="235.00" stroke="#000" stroke-width="0.65"/>
<line x1="479.10" y1="246.70" x2="482.30" y2="246.70" stroke="#000" stroke-width="0.65"/>
<line x1="504.30" y1="199.60" x2="504.30" y2="207.40" stroke="#000" stroke-width="0.65"/>
<line x1="502.70" y1="199.60" x2="505.90" y2="199.60" stroke="#000" stroke-width="0.65"/>
<line x1="502.70" y1="207.40" x2="505.90" y2="207.40" stroke="#000" stroke-width="0.65"/>
<polyline points="468.50,254.60 480.70,241.40 491.80,219.60 504.30,203.70" fill="none" stroke="#000" stroke-width="0.75"/>
<circle cx="468.50" cy="254.60" r="1.95" fill="#000"/>
<circle cx="480.70" cy="241.40" r="1.95" fill="#000"/>
<circle cx="491.80" cy="219.60" r="1.95" fill="#000"/>
<circle cx="504.30" cy="203.70" r="1.95" fill="#000"/>
<line x1="468.90" y1="229.50" x2="468.90" y2="235.50" stroke="#000" stroke-width="0.65"/>
<line x1="467.30" y1="229.50" x2="470.50" y2="229.50" stroke="#000" stroke-width="0.65"/>
<line x1="467.30" y1="235.50" x2="470.50" y2="235.50" stroke="#000" stroke-width="0.65"/>
<line x1="480.50" y1="207.00" x2="480.50" y2="217.20" stroke="#000" stroke-width="0.65"/>
<line x1="478.90" y1="207.00" x2="482.10" y2="207.00" stroke="#000" stroke-width="0.65"/>
<line x1="478.90" y1="217.20" x2="482.10" y2="217.20" stroke="#000" stroke-width="0.65"/>
<line x1="504.30" y1="186.50" x2="504.30" y2="194.30" stroke="#000" stroke-width="0.65"/>
<line x1="502.70" y1="186.50" x2="505.90" y2="186.50" stroke="#000" stroke-width="0.65"/>
<line x1="502.70" y1="194.30" x2="505.90" y2="194.30" stroke="#000" stroke-width="0.65"/>
<polyline points="468.90,232.30 480.50,212.70 491.80,193.40 504.30,191.00" fill="none" stroke="#000" stroke-width="0.75"/>
<circle cx="468.90" cy="232.30" r="1.55" fill="#fff" stroke="#000" stroke-width="0.8"/>
<circle cx="480.50" cy="212.70" r="1.55" fill="#fff" stroke="#000" stroke-width="0.8"/>
<circle cx="491.80" cy="193.40" r="1.55" fill="#fff" stroke="#000" stroke-width="0.8"/>
<circle cx="504.30" cy="191.00" r="1.55" fill="#fff" stroke="#000" stroke-width="0.8"/>
</svg>
</body></html>
